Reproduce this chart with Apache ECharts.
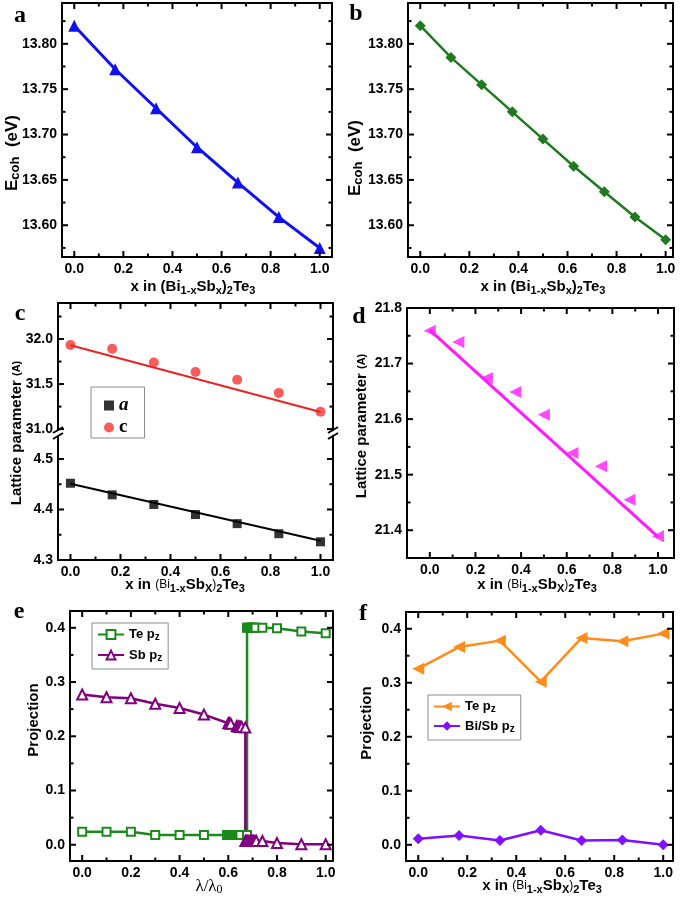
<!DOCTYPE html>
<html><head><meta charset="utf-8">
<script src="https://cdn.jsdelivr.net/npm/echarts@6/dist/echarts.min.js"></script>
<style>html,body{margin:0;padding:0;background:#fff}#chart{width:685px;height:905px}</style>
</head><body><div id="chart"></div>
<script>
// ---------------- data ----------------
const xSixths = [0, 0.1667, 0.3333, 0.5, 0.6667, 0.8333, 1.0];
const xEighths = [0, 0.125, 0.25, 0.375, 0.5, 0.625, 0.75, 0.875, 1.0];
const aEcoh = [13.820, 13.772, 13.729, 13.686, 13.647, 13.609, 13.575];
const bEcoh = [13.820, 13.785, 13.755, 13.725, 13.695, 13.665, 13.637, 13.609, 13.584];
const cLatA = [4.452, 4.429, 4.410, 4.390, 4.372, 4.352, 4.336];
const cLatC = [31.934, 31.893, 31.739, 31.633, 31.548, 31.402, 31.193];
const fitX = [0, 1];
const cFitA = [4.451, 4.338];
const cFitC = [31.93, 31.19];
const dLat = [21.759, 21.739, 21.674, 21.649, 21.608, 21.539, 21.515, 21.455, 21.389];
const dFit = [21.760, 21.388];
const eTeX = [0, 0.1, 0.2, 0.3, 0.4, 0.5, 0.595, 0.6, 0.605, 0.61, 0.615, 0.62, 0.625, 0.63, 0.635, 0.64, 0.645, 0.65, 0.677, 0.677, 0.682, 0.687, 0.692, 0.697, 0.702, 0.707, 0.712, 0.74, 0.8, 0.9, 1.0];
const eTeY = [0.024, 0.024, 0.024, 0.018, 0.018, 0.018, 0.018, 0.018, 0.018, 0.018, 0.018, 0.018, 0.018, 0.018, 0.018, 0.018, 0.018, 0.018, 0.018, 0.400, 0.400, 0.400, 0.400, 0.400, 0.400, 0.400, 0.400, 0.400, 0.399, 0.393, 0.390];
const eSbX = [0, 0.1, 0.2, 0.3, 0.4, 0.5, 0.6, 0.605, 0.61, 0.635, 0.64, 0.645, 0.65, 0.655, 0.67, 0.67, 0.675, 0.68, 0.685, 0.69, 0.695, 0.70, 0.705, 0.71, 0.715, 0.74, 0.8, 0.9, 1.0];
const eSbY = [0.277, 0.272, 0.270, 0.260, 0.252, 0.240, 0.224, 0.224, 0.223, 0.219, 0.218, 0.218, 0.217, 0.217, 0.216, 0.007, 0.007, 0.007, 0.007, 0.007, 0.007, 0.007, 0.007, 0.007, 0.007, 0.007, 0.003, 0.001, 0.001];
const fTe = [0.326, 0.366, 0.378, 0.302, 0.383, 0.377, 0.391];
const fBiSb = [0.011, 0.017, 0.008, 0.027, 0.008, 0.009, 0.000];
// ---------------- ticks ----------------
const xTicks = [0, 0.2, 0.4, 0.6, 0.8, 1.0];
const xMinorTicks = [0.1, 0.3, 0.5, 0.7, 0.9];
const ecohTicks = [13.60, 13.65, 13.70, 13.75, 13.80];
const ecohMinor = [13.575, 13.625, 13.675, 13.725, 13.775, 13.825];
const cUpTicks = [31.0, 31.5, 32.0];
const cUpMinor = [31.25, 31.75, 32.25];
const cLoTicks = [4.3, 4.4, 4.5];
const cLoMinor = [4.35, 4.45];
const dTicks = [21.4, 21.5, 21.6, 21.7, 21.8];
const dMinor = [21.45, 21.55, 21.65, 21.75];
const projTicks = [0.0, 0.1, 0.2, 0.3, 0.4];
const projMinor = [0.05, 0.15, 0.25, 0.35];

const FS = '"Liberation Sans", Arial, sans-serif';
const SERIF = '"Liberation Serif", "Times New Roman", serif';
const zip = (xs, ys) => xs.map((x, i) => [x, ys[i]]);

const option = {animation: false, backgroundColor: '#fff', grid: [], xAxis: [], yAxis: [], series: [], legend: [], graphic: []};
const TICK_COLOR = '#000', TICK_W = 2, MAJ = 6, MIN = 3.5;

function frameAxis(gi, pos, range) {
  return {type: 'value', gridIndex: gi, position: pos, min: range[0], max: range[1],
    axisLine: {show: true, onZero: false, lineStyle: {color: '#000', width: 2}},
    axisTick: {show: false}, axisLabel: {show: false}, splitLine: {show: false}, minorTick: {show: false}};
}
// thin strip aligned with the major tick range: carries the tick labels
function labelStrip(box, dim, range, interval, labelPos, dec) {
  const gi = option.grid.length;
  option.grid.push({left: box[0], top: box[1], width: box[2], height: box[3], containLabel: false, outerBoundsMode: 'none'});
  const ax = {type: 'value', gridIndex: gi, position: labelPos, min: range[0], max: range[1], interval: interval,
    axisLine: {show: false, onZero: false}, axisTick: {show: false}, minorTick: {show: false}, splitLine: {show: false},
    axisLabel: {show: true, showMinLabel: true, showMaxLabel: true, formatter: v => Number(v).toFixed(dec),
      color: '#000', fontFamily: FS, fontWeight: 'bold', fontSize: 14, margin: 5}};
  const hidden = {type: 'value', gridIndex: gi, show: false, min: 0, max: 1, splitLine: {show: false}};
  if (dim === 'x') { option.xAxis.push(ax); option.yAxis.push(hidden); }
  else { option.yAxis.push(ax); option.xAxis.push(hidden); }
}
const r6 = v => +v.toFixed(6);
const first = a => a[0], last = a => a[a.length - 1];

// custom series drawing inward tick marks through the axis scales
function tickRender(params, api) {
  const cs = params.coordSys;
  const p = api.coord([api.value(0), api.value(1)]);
  const side = api.value(2), len = api.value(3);
  let shape;
  if (side === 0) shape = {x1: p[0], y1: cs.y + cs.height, x2: p[0], y2: cs.y + cs.height - len};
  else if (side === 1) shape = {x1: p[0], y1: cs.y, x2: p[0], y2: cs.y + len};
  else if (side === 2) shape = {x1: cs.x, y1: p[1], x2: cs.x + len, y2: p[1]};
  else shape = {x1: cs.x + cs.width, y1: p[1], x2: cs.x + cs.width - len, y2: p[1]};
  return {type: 'line', shape: shape, style: {stroke: TICK_COLOR, lineWidth: TICK_W}};
}

function panel(p) {
  const [L, T, W, H] = p.box;
  const gi = option.grid.length;
  option.grid.push({left: L, top: T, width: W, height: H, containLabel: false, outerBoundsMode: 'none'});
  const xi = option.xAxis.length, yi = option.yAxis.length;
  const xs = p.xSides || ['bottom', 'top'];
  xs.forEach(pos => option.xAxis.push(frameAxis(gi, pos, p.x)));
  ['left', 'right'].forEach(pos => option.yAxis.push(frameAxis(gi, pos, p.y)));
  const px = v => L + (v - p.x[0]) / (p.x[1] - p.x[0]) * W;
  const py = v => T + (p.y[1] - v) / (p.y[1] - p.y[0]) * H;
  if (xs.indexOf('bottom') >= 0) {
    const xM = [first(p.xMaj), last(p.xMaj)];
    labelStrip([px(xM[0]), T + H - 4, px(xM[1]) - px(xM[0]), 4], 'x', xM, r6(p.xMaj[1] - p.xMaj[0]), 'bottom', 1);
  }
  const yM = [first(p.yMaj), last(p.yMaj)];
  labelStrip([L, py(yM[1]), 4, py(yM[0]) - py(yM[1])], 'y', yM, r6(p.yMaj[1] - p.yMaj[0]), 'left', p.yDec);
  const ticks = [];
  xs.forEach(pos => {
    const side = pos === 'bottom' ? 0 : 1;
    p.xMaj.forEach(v => ticks.push([v, p.y[0], side, MAJ]));
    p.xMin.forEach(v => ticks.push([v, p.y[0], side, MIN]));
  });
  [2, 3].forEach(side => {
    p.yMaj.forEach(v => ticks.push([p.x[0], v, side, MAJ]));
    p.yMin.forEach(v => ticks.push([p.x[0], v, side, MIN]));
  });
  option.series.push({type: 'custom', name: 'ticks' + gi, xAxisIndex: xi, yAxisIndex: yi, clip: false, silent: true,
    z: 5, renderItem: tickRender, data: ticks, encode: {x: 0, y: 1}});
  return {xAxisIndex: xi, yAxisIndex: yi};
}

const pa = panel({box: [62, 3, 270, 254], x: [-0.05, 1.05], y: [13.565, 13.845], xMaj: xTicks, xMin: xMinorTicks, yMaj: ecohTicks, yMin: ecohMinor, yDec: 2});
const pb = panel({box: [408, 3, 265, 254], x: [-0.05, 1.03], y: [13.565, 13.845], xMaj: xTicks, xMin: xMinorTicks, yMaj: ecohTicks, yMin: ecohMinor, yDec: 2});
const pcU = panel({box: [58, 303, 275, 127], x: [-0.05, 1.05], y: [30.99, 32.4], xMaj: xTicks, xMin: xMinorTicks, yMaj: cUpTicks, yMin: cUpMinor, yDec: 1, xSides: ['top']});
const pcL = panel({box: [58, 436, 275, 124], x: [-0.05, 1.05], y: [4.3, 4.5455], xMaj: xTicks, xMin: xMinorTicks, yMaj: cLoTicks, yMin: cLoMinor, yDec: 1, xSides: ['bottom']});
const pd = panel({box: [407, 308, 267, 250], x: [-0.1, 1.07], y: [21.35, 21.8], xMaj: xTicks, xMin: xMinorTicks, yMaj: dTicks, yMin: dMinor, yDec: 1});
const pe = panel({box: [70, 611, 263, 250], x: [-0.05, 1.03], y: [-0.030, 0.431], xMaj: xTicks, xMin: xMinorTicks, yMaj: projTicks, yMin: projMinor, yDec: 1});
const pf = panel({box: [406, 612, 267, 249], x: [-0.05, 1.04], y: [-0.030, 0.431], xMaj: xTicks, xMin: xMinorTicks, yMaj: projTicks, yMin: projMinor, yDec: 1});

const BLUE = '#1010f0', GREEN_B = '#1f7a1f', RED = '#f23333', MAG = '#ff1aff', GREEN_E = '#1a8a1a', PURP_E = '#800080', ORANGE = '#ff8c1a', VIOLET = '#8010ff';

option.series.push(
  Object.assign({type: 'line', name: 'aE', data: zip(xSixths, aEcoh), symbol: 'triangle', symbolSize: 12,
    lineStyle: {color: BLUE, width: 3}, itemStyle: {color: BLUE}}, pa),
  Object.assign({type: 'line', name: 'bE', data: zip(xEighths, bEcoh), symbol: 'diamond', symbolSize: 11,
    lineStyle: {color: GREEN_B, width: 2.5}, itemStyle: {color: GREEN_B}}, pb),
  Object.assign({type: 'line', name: 'cfitC', data: zip(fitX, cFitC), symbol: 'none',
    lineStyle: {color: '#ee2222', width: 2}}, pcU),
  Object.assign({type: 'scatter', name: 'c', data: zip(xSixths, cLatC), symbol: 'circle', symbolSize: 10,
    itemStyle: {color: RED}}, pcU),
  Object.assign({type: 'line', name: 'cfitA', data: zip(fitX, cFitA), symbol: 'none',
    lineStyle: {color: '#000', width: 2}}, pcL),
  Object.assign({type: 'scatter', name: 'a', data: zip(xSixths, cLatA), symbol: 'rect', symbolSize: 9,
    itemStyle: {color: '#000'}}, pcL),
  Object.assign({type: 'line', name: 'dfit', data: zip(fitX, dFit), symbol: 'none',
    lineStyle: {color: MAG, width: 3}}, pd),
  Object.assign({type: 'scatter', name: 'd', data: zip(xEighths, dLat), symbol: 'triangle', symbolRotate: 90, symbolSize: 12,
    itemStyle: {color: MAG}}, pd),
  Object.assign({type: 'line', name: 'eTe', data: zip(eTeX, eTeY), symbol: 'emptyRect', symbolSize: 8,
    lineStyle: {color: GREEN_E, width: 2.5}, itemStyle: {color: GREEN_E, borderWidth: 1.5}}, pe),
  Object.assign({type: 'line', name: 'eSb', data: zip(eSbX, eSbY), symbol: 'emptyTriangle', symbolSize: 10,
    lineStyle: {color: PURP_E, width: 2.5}, itemStyle: {color: PURP_E, borderWidth: 1.5}}, pe),
  Object.assign({type: 'line', name: 'fTe', data: zip(xSixths, fTe), symbol: 'triangle', symbolRotate: 90, symbolSize: 12,
    lineStyle: {color: ORANGE, width: 2.5}, itemStyle: {color: ORANGE}}, pf),
  Object.assign({type: 'line', name: 'fBi', data: zip(xSixths, fBiSb), symbol: 'diamond', symbolSize: 11,
    lineStyle: {color: VIOLET, width: 2.5}, itemStyle: {color: VIOLET}}, pf)
);

const legRich = {
  b: {fontFamily: FS, fontWeight: 'bold', fontSize: 13, lineHeight: 16, verticalAlign: 'middle', color: '#000'},
  s: {fontFamily: FS, fontWeight: 'bold', fontSize: 10, lineHeight: 8, verticalAlign: 'bottom', color: '#000'},
  i: {fontFamily: SERIF, fontStyle: 'italic', fontWeight: 'bold', fontSize: 19, lineHeight: 14, color: '#000'},
  r: {fontFamily: SERIF, fontWeight: 'bold', fontSize: 19, lineHeight: 14, color: '#000'}
};
const legNames = {a: '{i|a}', c: '{r|c}', eTe: '{b|Te p}{s|z}', eSb: '{b|Sb p}{s|z}', fTe: '{b|Te p}{s|z}', fBi: '{b|Bi/Sb p}{s|z}'};
const legBase = {orient: 'vertical', selectedMode: false, borderColor: '#8c8c8c', borderWidth: 1, borderRadius: 0,
  backgroundColor: '#fff', formatter: n => legNames[n], textStyle: {rich: legRich}};
option.legend.push(
  Object.assign({}, legBase, {left: 91, top: 387, data: [{name: 'a', icon: 'rect'}, {name: 'c', icon: 'circle'}],
    itemWidth: 10, itemHeight: 10, itemGap: 3, padding: [9, 16, 1, 13]}),
  Object.assign({}, legBase, {left: 92, top: 623, data: ['eTe', 'eSb'], itemWidth: 26, itemHeight: 11, itemGap: 6, padding: [5, 6, 6, 5]}),
  Object.assign({}, legBase, {left: 428, top: 695, data: ['fTe', 'fBi'], itemWidth: 26, itemHeight: 12, itemGap: 5, padding: [5, 6, 6, 5]})
);

// ---------------- texts ----------------
const R = {
  t: {fontFamily: FS, fontWeight: 'bold', fontSize: 15, lineHeight: 18, verticalAlign: 'middle', fill: '#000'},
  s: {fontFamily: FS, fontWeight: 'bold', fontSize: 11, lineHeight: 9, verticalAlign: 'bottom', fill: '#000'},
  T: {fontFamily: FS, fontWeight: 'bold', fontSize: 17, lineHeight: 20, verticalAlign: 'middle', fill: '#000'},
  S: {fontFamily: FS, fontWeight: 'bold', fontSize: 13, lineHeight: 10, verticalAlign: 'bottom', fill: '#000'},
  p: {fontFamily: FS, fontWeight: 'normal', fontSize: 12, lineHeight: 18, verticalAlign: 'middle', fill: '#000'},
  q: {fontFamily: FS, fontWeight: 'bold', fontSize: 11, lineHeight: 18, verticalAlign: 'middle', fill: '#000'},
  g: {fontFamily: SERIF, fontWeight: 'normal', fontSize: 17, lineHeight: 18, verticalAlign: 'middle', fill: '#000'},
  gs: {fontFamily: SERIF, fontWeight: 'normal', fontSize: 12, lineHeight: 9, verticalAlign: 'bottom', fill: '#000'},
  L: {fontFamily: SERIF, fontWeight: 'bold', fontSize: 24, lineHeight: 26, verticalAlign: 'middle', fill: '#000'}
};
function txt(x, y, text, rot) {
  return {type: 'text', x: x, y: y, rotation: rot ? Math.PI / 2 : 0, z: 100, silent: true,
    style: {text: text, rich: R, align: 'center', verticalAlign: 'middle', textAlign: 'center', textVerticalAlign: 'middle', fill: '#000'}};
}
const xTitleA = '{t|x in (Bi}{s|1-x}{t|Sb}{s|x}{t|)}{s|2}{t|Te}{s|3}';
const xTitleC = '{t|x in }{p|(Bi}{s|1-x}{t|Sb}{s|X}{p|)}{s|2}{t|Te}{s|3}';
const yEcoh = '{T|E}{S|coh}{T|  (eV)}';
const yLat = '{t|Lattice parameter }{q|(A)}';
option.graphic.push(
  txt(193, 287, xTitleA), txt(543, 287, xTitleA),
  txt(185, 585, xTitleC), txt(537, 585, xTitleC),
  txt(209, 887, '{g|λ/λ}{gs|0}'), txt(542, 886, xTitleC),
  txt(12, 153, yEcoh, true), txt(355, 158, yEcoh, true),
  txt(17, 433, yLat, true), txt(362, 426, yLat, true),
  txt(34, 720, '{t|Projection}', true), txt(367, 723, '{t|Projection}', true),
  txt(20, 16, '{L|a}'), txt(356, 14, '{L|b}'), txt(20, 314, '{L|c}'), txt(359, 317, '{L|d}'),
  txt(19, 612, '{L|e}'), txt(363, 614, '{L|f}')
);
// axis break marks on panel c
[58, 333].forEach(bx => {
  [430, 436].forEach(by => {
    option.graphic.push({type: 'line', z: 100, silent: true, shape: {x1: bx - 5, y1: by + 3, x2: bx + 5, y2: by - 3},
      style: {stroke: '#000', lineWidth: 2}});
  });
});

const chart = echarts.init(document.getElementById('chart'), null, {renderer: 'canvas'});
chart.setOption(option);
</script></body></html>
